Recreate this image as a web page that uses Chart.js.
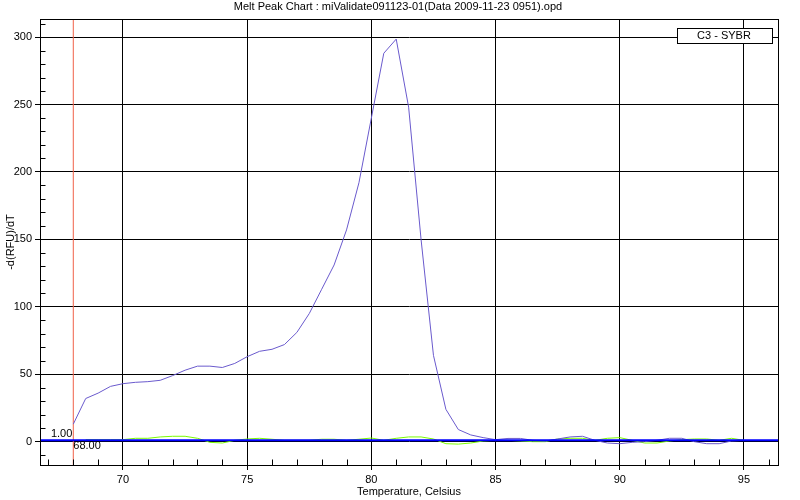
<!DOCTYPE html>
<html>
<head>
<meta charset="utf-8">
<script src="https://cdn.jsdelivr.net/npm/chart.js@4.4.1/dist/chart.umd.min.js"></script>
<style>
  html, body { margin: 0; padding: 0; background: #fff; }
</style>
</head>
<body>
<canvas id="meltChart" width="800" height="500"></canvas>
<script>
// Melt peak data (0.5 degree steps)
const temps = [68, 68.5, 69, 69.5, 70, 70.5, 71, 71.5, 72, 72.5, 73, 73.5, 74, 74.5,
  75, 75.5, 76, 76.5, 77, 77.5, 78, 78.5, 79, 79.5, 80, 80.5, 81, 81.5, 82, 82.5,
  83, 83.5, 84, 84.5, 85, 85.5, 86, 86.5, 87, 87.5, 88, 88.5, 89, 89.5, 90, 90.5,
  91, 91.5, 92, 92.5, 93, 93.5, 94, 94.5, 95];

// C3 - SYBR sample
const sampleC3 = [13, 32, 36, 41, 43, 44, 44.5, 45.5, 49, 53, 56, 56, 55, 58,
  63, 67, 68.5, 72, 81, 95, 113, 131, 157, 192, 240, 288, 298.5, 248, 150, 64,
  24, 9, 5, 3, 1.5, 2.4, 2.4, 1, 0.5, 2, 3.5, 4, 1, -1, -1.5, -0.5,
  0, 1, 2.5, 2.5, 0, -1.5, -1.5, 0.5, 1];

// flat (negative) trace near zero
const sampleFlat = [null, 1.5, 1.5, 1.5, 1.5, 2.5, 2.5, 3.5, 4, 4, 2.5, -0.5, -1, 1,
  2, 2.5, 1.8, 1, 1, 1, 1.8, 1.8, 1, 1.8, 2.7, 1, 2.5, 3.5, 3.5, 2,
  -1.5, -1.8, -1, 0.5, 1, 1, 0.5, 0, 0, 2, 2.5, 2.5, 1, 2.5, 3, 1,
  -1, -1, 0.5, 1.5, 2, 2, 1, 2.5, 1];

const threshold = 1.0;
const cursorTemp = 68.0;
const xMin = 66.66, xMax = 96.37;
const yMin = -17.3, yMax = 313.4;
const xTicks = [67, 68, 69, 70, 71, 72, 73, 74, 75, 76, 77, 78, 79, 80, 81, 82, 83, 84,
  85, 86, 87, 88, 89, 90, 91, 92, 93, 94, 95, 96];
const yTicks = [-10, 0, 10, 20, 30, 40, 50, 60, 70, 80, 90, 100, 110, 120, 130, 140, 150,
  160, 170, 180, 190, 200, 210, 220, 230, 240, 250, 260, 270, 280, 290, 300, 310];

const chartTitle = "Melt Peak Chart : miValidate091123-01(Data 2009-11-23 0951).opd";
const legendText = "C3 - SYBR";

const pts = (ys) => temps.map((t, i) => ({ x: t, y: ys[i] }));

Chart.defaults.font.family = "'Liberation Sans', Arial, sans-serif";
Chart.defaults.font.size = 11;
Chart.defaults.color = "#000";

const isMajorY = (v) => v % 50 === 0;
const isMajorX = (v) => v % 5 === 0;

// extra drawing: frame, minor ticks, title, legend box, cursor labels
const extras = {
  id: "extras",
  afterDraw(chart) {
    const { ctx, chartArea: a, scales: { x, y } } = chart;
    const L = Math.round(a.left) + 0.5, R = Math.round(a.right) + 0.5;
    const T = Math.round(a.top) + 0.5, B = Math.round(a.bottom) + 0.5;
    ctx.save();
    ctx.strokeStyle = "#000";
    ctx.lineWidth = 1;
    ctx.strokeRect(L, T, R - L, B - T);

    ctx.beginPath();
    yTicks.forEach(v => {
      if (isMajorY(v)) return;
      const py = Math.round(y.getPixelForValue(v)) + 0.5;
      ctx.moveTo(L, py); ctx.lineTo(L + 5, py);
    });
    xTicks.forEach(v => {
      if (isMajorX(v)) return;
      const px = Math.round(x.getPixelForValue(v)) + 0.5;
      ctx.moveTo(px, B); ctx.lineTo(px, B - 6);
    });
    ctx.stroke();

    ctx.font = "11px 'Liberation Sans', Arial, sans-serif";
    ctx.fillStyle = "#000";
    ctx.textAlign = "center";
    ctx.textBaseline = "middle";
    ctx.fillText(chartTitle, 398, 7);

    // legend box
    ctx.fillStyle = "#fff";
    ctx.fillRect(677, 28, 95, 15);
    ctx.strokeRect(677.5, 28.5, 95, 15);
    ctx.fillStyle = "#000";
    ctx.fillText(legendText, 724, 36);

    // cursor labels
    const cx = x.getPixelForValue(cursorTemp);
    ctx.textAlign = "right";
    ctx.textBaseline = "alphabetic";
    ctx.fillText(threshold.toFixed(2), cx - 1, y.getPixelForValue(threshold) - 3);
    ctx.textAlign = "left";
    ctx.textBaseline = "top";
    ctx.fillText(cursorTemp.toFixed(2), cx, y.getPixelForValue(0) - 1);
    ctx.restore();
  }
};

const ctx = document.getElementById("meltChart").getContext("2d");
const meltChart = new Chart(ctx, {
  type: "line",
  data: {
    datasets: [
      {
        label: "threshold",
        data: [{ x: xMin, y: threshold }, { x: xMax, y: threshold }],
        borderColor: "#0000ff",
        borderWidth: 2,
        order: 0
      },
      {
        label: legendText,
        data: pts(sampleC3),
        borderColor: "#6a5acd",
        borderWidth: 1,
        tension: 0,
        order: 1
      },
      {
        label: "flat",
        data: pts(sampleFlat),
        borderColor: "#7cfc00",
        borderWidth: 1,
        tension: 0,
        order: 2
      },
      {
        label: "cursor",
        data: [{ x: cursorTemp, y: yMin }, { x: cursorTemp, y: yMax }],
        borderColor: "#f06048",
        borderWidth: 1,
        order: 3
      }
    ]
  },
  options: {
    responsive: false,
    animation: false,
    devicePixelRatio: 1,
    layout: { padding: { top: 19, right: 22, left: 0, bottom: 0 } },
    elements: { point: { radius: 0 } },
    plugins: { legend: { display: false }, tooltip: { enabled: false }, title: { display: false } },
    scales: {
      x: {
        type: "linear",
        min: xMin,
        max: xMax,
        afterBuildTicks: (s) => { s.ticks = xTicks.map(v => ({ value: v })); },
        afterFit: (s) => { s.height = 35; },
        ticks: {
          autoSkip: false,
          maxRotation: 0,
          padding: 3,
          callback: (v) => isMajorX(v) ? String(v) : ""
        },
        grid: {
          color: (c) => c.tick && isMajorX(c.tick.value) ? "#000" : "transparent",
          tickColor: (c) => c.tick && isMajorX(c.tick.value) ? "#000" : "transparent",
          tickLength: 5
        },
        border: { color: "#000" },
        title: { display: true, text: "Temperature, Celsius", padding: { top: 0, bottom: 1 } }
      },
      y: {
        min: yMin,
        max: yMax,
        afterBuildTicks: (s) => { s.ticks = yTicks.map(v => ({ value: v })); },
        afterFit: (s) => { s.width = 40; },
        ticks: {
          autoSkip: false,
          padding: 3,
          callback: (v) => isMajorY(v) ? String(v) : ""
        },
        grid: {
          color: (c) => c.tick && isMajorY(c.tick.value) ? "#000" : "transparent",
          tickColor: (c) => c.tick && isMajorY(c.tick.value) ? "#000" : "transparent",
          tickLength: 5
        },
        border: { color: "#000" },
        title: { display: true, text: "-d(RFU)/dT", padding: { top: 4, bottom: 0 } }
      }
    }
  },
  plugins: [extras]
});
</script>
</body>
</html>
